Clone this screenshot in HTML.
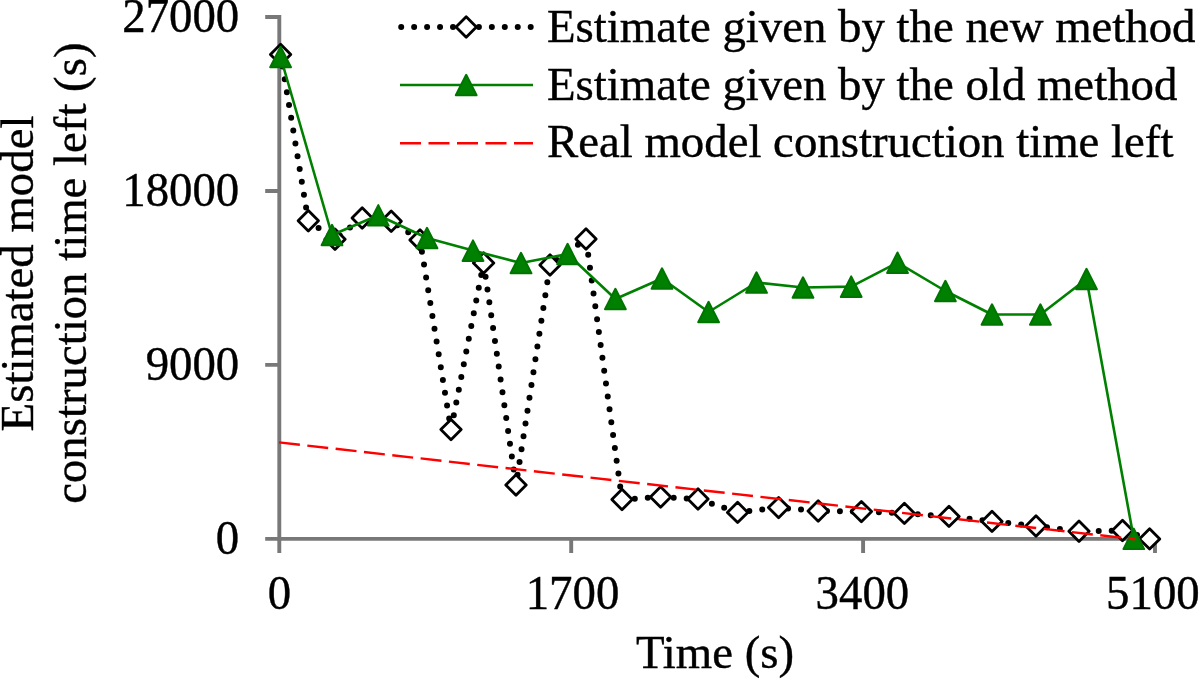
<!DOCTYPE html>
<html lang="en"><head><meta charset="utf-8"><title>Estimated model construction time left</title>
<style>
html,body{margin:0;padding:0;background:#fff}
body{width:1200px;height:680px;overflow:hidden}
svg{display:block;filter:blur(0.35px)}
text{font-family:'Liberation Serif','Times New Roman',serif;font-size:46.8px;fill:#000;stroke:#000;stroke-width:0.4px}
</style></head><body>
<svg width="1200" height="680" viewBox="0 0 1200 680">
<rect width="1200" height="680" fill="#fff"/>
<g stroke="#787878" stroke-width="3.9" fill="none">
<path d="M279.3 15.1V540.8"/>
<path d="M277.4 538.85H1157"/>
<path d="M265.2 17.05H279.3M265.2 191H279.3M265.2 364.9H279.3M265.2 538.85H279.3"/>
<path d="M279.3 539V553M571.2 539V553M863.1 539V553M1155 539V553"/>
</g>
<g text-anchor="end">
<text transform="translate(239.2 31.7) scale(1 1.05)">27000</text>
<text transform="translate(239.2 205.7) scale(1 1.05)">18000</text>
<text transform="translate(239.2 379.7) scale(1 1.05)">9000</text>
<text transform="translate(239.2 553.7) scale(1 1.05)">0</text>
</g>
<g text-anchor="middle">
<text transform="translate(279.5 609) scale(1 1.05)">0</text>
<text transform="translate(572.5 609) scale(1 1.05)">1700</text>
<text transform="translate(862.4 609) scale(1 1.05)">3400</text>
<text transform="translate(1152.9 609) scale(1 1.05)">5100</text>
<text x="715" y="668.2">Time (s)</text>
<text transform="translate(33.2 273.5) rotate(-90)">Estimated model</text>
<text transform="translate(85.8 273.2) rotate(-90)">construction time left (s)</text>
</g>

<polyline points="280.6,54.4 308.3,220.8 335.0,239.2 362.2,218.0 391.2,221.3 420.0,240.0 451.0,429.6 483.6,263.0 516.0,485.0 550.0,265.0 586.0,239.0 622.0,499.5 660.6,497.0 698.0,499.0 737.6,512.4 778.6,507.6 818.2,511.0 861.4,511.6 904.4,513.4 949.0,516.4 992.0,521.4 1036.0,526.0 1079.0,531.3 1122.5,530.5 1149.6,538.9" fill="none" stroke="#000" stroke-width="6" stroke-linecap="round" stroke-linejoin="round" stroke-dasharray="0 12.99" stroke-dashoffset="0.7"/>
<g fill="#fff" stroke="#000" stroke-width="2.8" stroke-linejoin="round"><path d="M280.6 44.2L290.8 54.4L280.6 64.6L270.4 54.4Z"/><path d="M308.3 210.6L318.5 220.8L308.3 231.0L298.1 220.8Z"/><path d="M335.0 229.0L345.2 239.2L335.0 249.4L324.8 239.2Z"/><path d="M362.2 207.8L372.4 218.0L362.2 228.2L352.0 218.0Z"/><path d="M391.2 211.1L401.4 221.3L391.2 231.5L381.0 221.3Z"/><path d="M420.0 229.8L430.2 240.0L420.0 250.2L409.8 240.0Z"/><path d="M451.0 419.4L461.2 429.6L451.0 439.8L440.8 429.6Z"/><path d="M483.6 252.8L493.8 263.0L483.6 273.2L473.4 263.0Z"/><path d="M516.0 474.8L526.2 485.0L516.0 495.2L505.8 485.0Z"/><path d="M550.0 254.8L560.2 265.0L550.0 275.2L539.8 265.0Z"/><path d="M586.0 228.8L596.2 239.0L586.0 249.2L575.8 239.0Z"/><path d="M622.0 489.3L632.2 499.5L622.0 509.7L611.8 499.5Z"/><path d="M660.6 486.8L670.8 497.0L660.6 507.2L650.4 497.0Z"/><path d="M698.0 488.8L708.2 499.0L698.0 509.2L687.8 499.0Z"/><path d="M737.6 502.2L747.8 512.4L737.6 522.6L727.4 512.4Z"/><path d="M778.6 497.4L788.8 507.6L778.6 517.8L768.4 507.6Z"/><path d="M818.2 500.8L828.4 511.0L818.2 521.2L808.0 511.0Z"/><path d="M861.4 501.4L871.6 511.6L861.4 521.8L851.2 511.6Z"/><path d="M904.4 503.2L914.6 513.4L904.4 523.6L894.2 513.4Z"/><path d="M949.0 506.2L959.2 516.4L949.0 526.6L938.8 516.4Z"/><path d="M992.0 511.2L1002.2 521.4L992.0 531.6L981.8 521.4Z"/><path d="M1036.0 515.8L1046.2 526.0L1036.0 536.2L1025.8 526.0Z"/><path d="M1079.0 521.1L1089.2 531.3L1079.0 541.5L1068.8 531.3Z"/><path d="M1122.5 520.3L1132.7 530.5L1122.5 540.7L1112.3 530.5Z"/><path d="M1149.6 528.7L1159.8 538.9L1149.6 549.1L1139.4 538.9Z"/></g>
<polyline points="280.6,57.0 332.0,235.0 378.3,215.3 427.0,238.0 473.0,250.6 521.0,263.0 567.6,254.0 615.4,299.0 662.0,278.5 708.6,312.0 756.5,282.5 803.0,287.5 851.2,286.6 897.5,262.7 945.4,291.0 992.0,314.5 1040.4,314.5 1086.5,279.0 1133.8,538.8" fill="none" stroke="#008000" stroke-width="2.6" stroke-linejoin="round"/>
<g fill="#008000" stroke="#007400" stroke-width="2" stroke-linejoin="round"><path d="M280.6 46.8L291.0 67.3L270.2 67.3Z"/><path d="M332.0 224.8L342.4 245.3L321.6 245.3Z"/><path d="M378.3 205.1L388.7 225.6L367.9 225.6Z"/><path d="M427.0 227.8L437.4 248.3L416.6 248.3Z"/><path d="M473.0 240.4L483.4 260.9L462.6 260.9Z"/><path d="M521.0 252.8L531.4 273.3L510.6 273.3Z"/><path d="M567.6 243.8L578.0 264.3L557.2 264.3Z"/><path d="M615.4 288.8L625.8 309.3L605.0 309.3Z"/><path d="M662.0 268.3L672.4 288.8L651.6 288.8Z"/><path d="M708.6 301.8L719.0 322.3L698.2 322.3Z"/><path d="M756.5 272.3L766.9 292.8L746.1 292.8Z"/><path d="M803.0 277.3L813.4 297.8L792.6 297.8Z"/><path d="M851.2 276.4L861.6 296.9L840.8 296.9Z"/><path d="M897.5 252.5L907.9 273.0L887.1 273.0Z"/><path d="M945.4 280.8L955.8 301.3L935.0 301.3Z"/><path d="M992.0 304.3L1002.4 324.8L981.6 324.8Z"/><path d="M1040.4 304.3L1050.8 324.8L1030.0 324.8Z"/><path d="M1086.5 268.8L1096.9 289.3L1076.1 289.3Z"/><path d="M1133.8 528.6L1144.2 549.1L1123.4 549.1Z"/></g>
<path d="M279 442.4L1134.7 539.2" fill="none" stroke="#f00" stroke-width="2.4" stroke-dasharray="21 7.5"/>
<g>
<path d="M401.2 27H531" fill="none" stroke="#000" stroke-width="6" stroke-linecap="round" stroke-dasharray="0 12.95"/>
<g fill="#fff" stroke="#000" stroke-width="2.8" stroke-linejoin="round"><path d="M466.2 16.8L476.4 27.0L466.2 37.2L456.0 27.0Z"/></g>
<path d="M400 85H533" fill="none" stroke="#008000" stroke-width="2.6"/>
<g fill="#008000" stroke="#007400" stroke-width="2" stroke-linejoin="round"><path d="M466.2 74.8L476.6 95.3L455.8 95.3Z"/></g>
<path d="M400 143.2H533" fill="none" stroke="#f00" stroke-width="2.4" stroke-dasharray="21 7.5"/>
<text x="547" y="41.5">Estimate given by the new method</text>
<text x="547" y="99.9">Estimate given by the old method</text>
<text x="547" y="157.3">Real model construction time left</text>
</g>
</svg>
</body></html>
